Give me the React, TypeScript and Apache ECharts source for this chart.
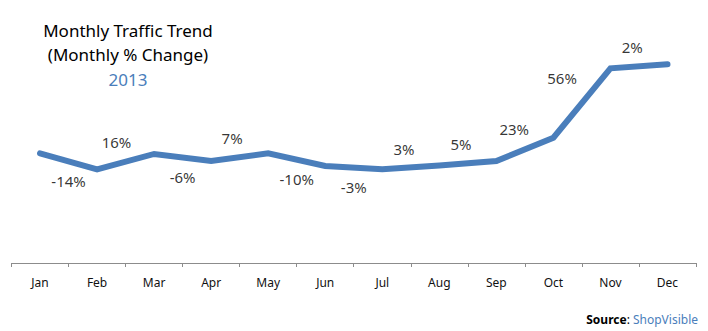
import React, { useEffect, useRef } from "react";
import * as echarts from "echarts";

const months = ["Jan", "Feb", "Mar", "Apr", "May", "Jun", "Jul", "Aug", "Sep", "Oct", "Nov", "Dec"];
// traffic index level (relative)
const trafficLevel = [49.2, 42.0, 48.9, 45.7, 49.2, 43.5, 42.0, 43.7, 45.7, 56.2, 87.3, 89.1];
// month-over-month % change labels, one per segment (Jan→Feb ... Nov→Dec)
const changeLabels = ["-14%", "16%", "-6%", "7%", "-10%", "-3%", "3%", "5%", "23%", "56%", "2%"];

const titleLines = ["Monthly Traffic Trend", "(Monthly % Change)"];
const titleYear = "2013";
const sourceLabel = "Source";
const sourceName = "ShopVisible";

const FONT = "'Noto Sans', 'Open Sans', sans-serif";
const BLUE = "#4A7EBB";
const GRID_TOP = 40;
const GRID_BOTTOM = 68;
const Y_MAX = 100;

export default function App() {
  const ref = useRef<HTMLDivElement>(null);
  useEffect(() => {
    if (!ref.current) return;
    const chart = echarts.init(ref.current, null, { renderer: "svg" });
    const pxPerUnit = (331 - GRID_TOP - GRID_BOTTOM) / Y_MAX;
    const labelPoints = changeLabels.map((t, i) => {
      const dy = (trafficLevel[i + 1] - trafficLevel[i]) * pxPerUnit;
      const rise = dy >= 0;
      return {
        value: [i + 0.5, (trafficLevel[i] + trafficLevel[i + 1]) / 2],
        label: {
          show: true,
          formatter: t,
          position: rise ? "top" : "bottom",
          distance: rise ? 10 : 11,
          offset: rise ? [-(6 + 0.2 * dy), -0.1 * dy] : [0, 0],
        },
      };
    });
    chart.setOption({
      animation: false,
      backgroundColor: "#fff",
      grid: { left: 11.5, right: 12, top: GRID_TOP, bottom: GRID_BOTTOM, containLabel: false },
      xAxis: [
        {
          type: "category",
          data: months,
          boundaryGap: true,
          axisLine: { show: true, lineStyle: { color: "#8c8c8c", width: 1 } },
          axisTick: { show: true, length: 4, lineStyle: { color: "#8c8c8c" } },
          axisLabel: { color: "#111", fontSize: 12, fontFamily: FONT, margin: 13 },
        },
        { type: "value", min: -0.5, max: 11.5, show: false },
      ],
      yAxis: { type: "value", min: 0, max: Y_MAX, show: false },
      graphic: [
        {
          type: "text",
          x: 128,
          y: 22,
          style: { text: titleLines[0], textAlign: "center", textVerticalAlign: "top", fontSize: 17, fontFamily: FONT, fill: "#000" },
        },
        {
          type: "text",
          x: 128,
          y: 46,
          style: { text: titleLines[1], textAlign: "center", textVerticalAlign: "top", fontSize: 17, fontFamily: FONT, fill: "#000" },
        },
        {
          type: "text",
          x: 128,
          y: 71,
          style: { text: titleYear, textAlign: "center", textVerticalAlign: "top", fontSize: 17, fontFamily: FONT, fill: BLUE },
        },
        {
          type: "text",
          right: 10,
          bottom: 6,
          style: {
            text: "{b|" + sourceLabel + "}: {c|" + sourceName + "}",
            fontFamily: FONT,
            fontSize: 12,
            rich: {
              b: { fontWeight: "bold", fontSize: 12, fontFamily: FONT, fill: "#000" },
              c: { fontSize: 12, fontFamily: FONT, fill: BLUE },
            },
          },
        },
      ],
      series: [
        {
          type: "line",
          data: trafficLevel,
          xAxisIndex: 0,
          symbol: "none",
          lineStyle: { color: BLUE, width: 6, cap: "round", join: "miter" },
          z: 2,
        },
        {
          type: "scatter",
          xAxisIndex: 1,
          data: labelPoints,
          symbol: "circle",
          symbolSize: 2,
          itemStyle: { color: "rgba(0,0,0,0)" },
          label: { show: true, color: "#000", fontSize: 15, fontFamily: FONT },
          z: 3,
        },
      ],
    });
    return () => chart.dispose();
  }, []);
  return <div ref={ref} style={{ width: 708, height: 331, position: "absolute", left: 0, top: 0 }} />;
}
